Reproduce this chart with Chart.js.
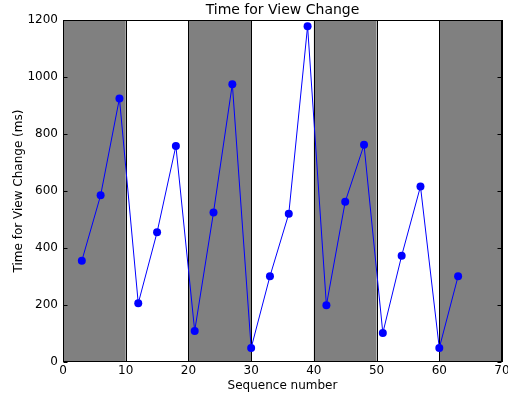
<!DOCTYPE html>
<html>
<head>
<meta charset="utf-8">
<script src="https://cdn.jsdelivr.net/npm/chart.js@4"></script>
<style>
  html, body { margin: 0; padding: 0; background: #fff; }
  #wrap { width: 508px; height: 393px; }
</style>
</head>
<body>
<div id="wrap"><canvas id="chart"></canvas></div>
<script>
// data
const seqNumbers = [3, 6, 9, 12, 15, 18, 21, 24, 27, 30, 33, 36, 39, 42, 45, 48, 51, 54, 57, 60, 63];
const viewChangeMs = [355, 585, 925, 206, 455, 758, 109, 525, 975, 49, 301, 520, 1178, 199, 562, 762, 102, 373, 616, 49, 301];
const shadedBands = [[0, 10], [20, 30], [40, 50], [60, 70]];
const xTicks = [0, 10, 20, 30, 40, 50, 60, 70];
const yTicks = [0, 200, 400, 600, 800, 1000, 1200];

const FONT = "'DejaVu Sans', sans-serif";

// grey bands + black edge lines behind the data
const bandsPlugin = {
  id: "bands",
  beforeDatasetsDraw(chart) {
    const { ctx, chartArea: a, scales: { x } } = chart;
    ctx.save();
    ctx.fillStyle = "#808080";
    shadedBands.forEach(([s, e]) => {
      ctx.fillRect(x.getPixelForValue(s), a.top, x.getPixelForValue(e) - x.getPixelForValue(s), a.bottom - a.top);
    });
    ctx.strokeStyle = "#000";
    ctx.lineWidth = 1;
    shadedBands.flat().forEach((v) => {
      const px = Math.round(x.getPixelForValue(v)) + 0.5;
      ctx.beginPath();
      ctx.moveTo(px, a.top);
      ctx.lineTo(px, a.bottom);
      ctx.stroke();
    });
    ctx.restore();
  },
};

// frame and inward ticks like matplotlib classic
const framePlugin = {
  id: "frame",
  afterDraw(chart) {
    const { ctx, chartArea: a, scales: { x, y } } = chart;
    ctx.save();
    ctx.strokeStyle = "#000";
    ctx.lineWidth = 1;
    const L = Math.round(a.left) + 0.5, R = Math.round(a.right) - 0.5;
    const T = Math.round(a.top) + 0.5, B = Math.round(a.bottom) - 0.5;
    ctx.strokeRect(L, T, R - L, B - T);
    ctx.beginPath();
    xTicks.forEach((v) => {
      const px = Math.round(x.getPixelForValue(v)) + 0.5;
      ctx.moveTo(px, B); ctx.lineTo(px, B - 4);
      ctx.moveTo(px, T); ctx.lineTo(px, T + 4);
    });
    yTicks.forEach((v) => {
      const py = Math.round(y.getPixelForValue(v)) + 0.5;
      ctx.moveTo(L, py); ctx.lineTo(L + 4, py);
      ctx.moveTo(R, py); ctx.lineTo(R - 4, py);
    });
    ctx.stroke();
    ctx.restore();
  },
};

new Chart(document.getElementById("chart"), {
  type: "line",
  data: {
    datasets: [{
      data: seqNumbers.map((s, i) => ({ x: s, y: viewChangeMs[i] })),
      borderColor: "#0000ff",
      backgroundColor: "#0000ff",
      borderWidth: 1,
      pointRadius: 4,
      pointBorderWidth: 0,
      tension: 0,
    }],
  },
  options: {
    responsive: true,
    maintainAspectRatio: false,
    animation: false,
    layout: { padding: { left: 0, right: 6, top: 0, bottom: 0 } },
    plugins: {
      legend: { display: false },
      tooltip: { enabled: false },
      title: {
        display: true,
        fullSize: false,
        text: "Time for View Change",
        color: "#000",
        font: { family: FONT, size: 14, weight: "normal" },
        padding: { top: 2, bottom: 1.2 },
      },
    },
    scales: {
      x: {
        type: "linear",
        min: 0, max: 70,
        afterBuildTicks: (s) => { s.ticks = xTicks.map((v) => ({ value: v })); },
        afterFit: (s) => { s.height = 31; s.paddingLeft = 0; s.paddingRight = 0; },
        grid: { display: false, drawTicks: false },
        border: { display: false },
        ticks: { color: "#000", font: { family: FONT, size: 12 }, padding: 2, maxRotation: 0, callback: (v) => String(v) },
        title: {
          display: true, text: "Sequence number", color: "#000",
          font: { family: FONT, size: 12 }, padding: { top: 0, bottom: 0 },
        },
      },
      y: {
        min: 0, max: 1200,
        afterBuildTicks: (s) => { s.ticks = yTicks.map((v) => ({ value: v })); },
        afterFit: (s) => { s.width = 63; s.paddingTop = 0; s.paddingBottom = 0; },
        grid: { display: false, drawTicks: false },
        border: { display: false },
        ticks: { color: "#000", font: { family: FONT, size: 12 }, padding: 5, callback: (v) => String(v) },
        title: {
          display: true, text: "Time for View Change (ms)", color: "#000",
          font: { family: FONT, size: 12 }, padding: { top: 12, bottom: 0 },
        },
      },
    },
  },
  plugins: [bandsPlugin, framePlugin],
});
</script>
</body>
</html>
